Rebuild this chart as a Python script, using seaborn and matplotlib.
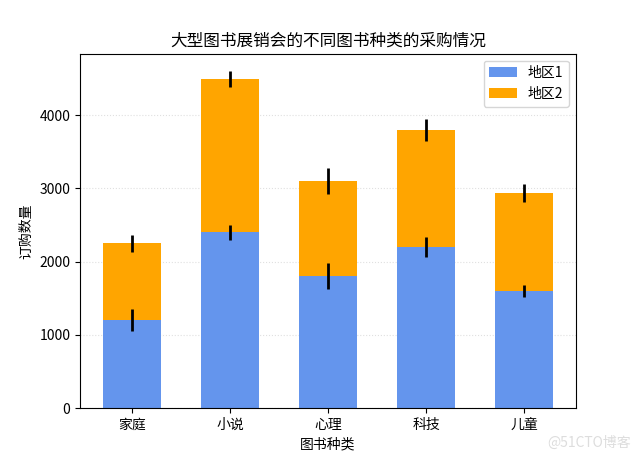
#导入库
import numpy as np
import pandas as pd
import seaborn as sns
import matplotlib
matplotlib.use("Agg")
import matplotlib.pyplot as plt

plt.rcParams['font.family'] = ['Noto Sans CJK SC', 'DejaVu Sans']
plt.rcParams['axes.unicode_minus'] = False

#数据
categories = ["家庭", "小说", "心理", "科技", "儿童"]
region1 = [1200, 2400, 1800, 2200, 1600]
region2 = [1050, 2100, 1300, 1600, 1340]
err1 = [150, 100, 180, 130, 85]
err2 = [120, 110, 175, 150, 125]

df = pd.DataFrame({"种类": categories, "地区1": region1, "地区2": region2})
df["合计"] = df["地区1"] + df["地区2"]

fig, ax = plt.subplots(figsize=(6.4, 4.59), dpi=100)
fig.subplots_adjust(left=0.125, right=0.9, top=0.883, bottom=0.111)

#先画合计(橙色)放在后面, 再画地区1(蓝色)盖在上面 => 堆叠效果
sns.barplot(data=df, x="种类", y="合计", color="orange", saturation=1,
            width=0.6, label="地区2", ax=ax, zorder=0.8)
sns.barplot(data=df, x="种类", y="地区1", color="cornflowerblue", saturation=1,
            width=0.6, label="地区1", ax=ax, zorder=1)

x = np.arange(len(categories))
ax.errorbar(x, df["地区1"], yerr=err1, fmt="none", ecolor="black", elinewidth=2, zorder=3)
ax.errorbar(x, df["合计"], yerr=err2, fmt="none", ecolor="black", elinewidth=2, zorder=3)

ax.set_axisbelow(True)
ax.grid(axis="y", linestyle=":", color="lightgray", alpha=0.7)
ax.set_title("大型图书展销会的不同图书种类的采购情况")
ax.set_xlabel("图书种类")
ax.set_ylabel("订购数量")

handles, labels = ax.get_legend_handles_labels()
order = [labels.index("地区1"), labels.index("地区2")]
ax.legend([handles[i] for i in order], [labels[i] for i in order], loc="upper right")

fig.text(0.985, 0.02, "@51CTO博客", ha="right", va="bottom", color="#dddddd", fontsize=10)

plt.savefig("out.png", dpi=100)
